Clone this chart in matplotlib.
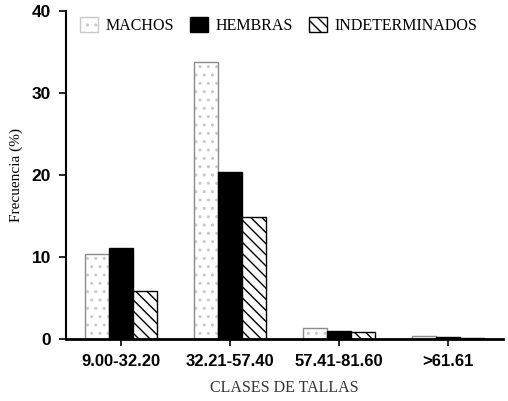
import matplotlib
matplotlib.use("Agg")
import matplotlib.pyplot as plt
import numpy as np

clases = ["9.00-32.20", "32.21-57.40", "57.41-81.60", ">61.61"]
machos = [10.4, 33.8, 1.4, 0.35]
hembras = [11.1, 20.4, 1.0, 0.25]
indeterminados = [5.85, 14.9, 0.9, 0.1]

plt.rcParams["hatch.linewidth"] = 1.0

fig = plt.figure(figsize=(5.08, 4.01), dpi=100)
ax = fig.add_axes([0.13, 0.1546, 0.86, 0.818])

x = np.arange(len(clases))
w = 0.22
ax.bar(x - w, machos, w, color="white", edgecolor="#c8c8c8", hatch="..",
       linewidth=1.0, label="MACHOS")
ax.bar(x - w, machos, w, color="none", edgecolor="#8c8c8c", linewidth=0.9)
ax.bar(x, hembras, w, color="black", edgecolor="black", label="HEMBRAS")
ax.bar(x + w, indeterminados, w, color="white", edgecolor="black",
       hatch="\\\\\\", linewidth=1.0, label="INDETERMINADOS")

ax.set_xlim(-0.505, 3.5)
ax.set_ylim(0, 40)
ax.set_yticks([0, 10, 20, 30, 40])
ax.set_xticks(x)
ax.set_xticklabels(clases)
for lab in ax.get_xticklabels():
    lab.set_fontweight("bold")
    lab.set_fontsize(12)
    lab.set_family("Liberation Sans")
for lab in ax.get_yticklabels():
    lab.set_fontweight("bold")
    lab.set_fontsize(12.5)
    lab.set_family("Liberation Sans")

ax.spines["top"].set_visible(False)
ax.spines["right"].set_visible(False)
ax.spines["left"].set_linewidth(1.5)
ax.spines["bottom"].set_linewidth(2.0)
ax.tick_params(axis="y", direction="out", length=5, width=1.2, pad=6)
ax.tick_params(axis="x", direction="out", length=5, width=1.2, pad=6)

ax.set_ylabel("Frecuencia (%)", family="Liberation Serif", fontsize=11, labelpad=6)
ax.set_xlabel("CLASES DE TALLAS", family="Liberation Serif", fontsize=11.5,
              color="#333333", labelpad=8)

ax.legend(loc="upper center", bbox_to_anchor=(0.487, 1.025), ncol=3, frameon=False,
          prop={"family": "Liberation Serif", "size": 11.5},
          handlelength=1.1, handleheight=1.1, handletextpad=0.5, columnspacing=1.0)

fig.savefig("out.png", dpi=100)
